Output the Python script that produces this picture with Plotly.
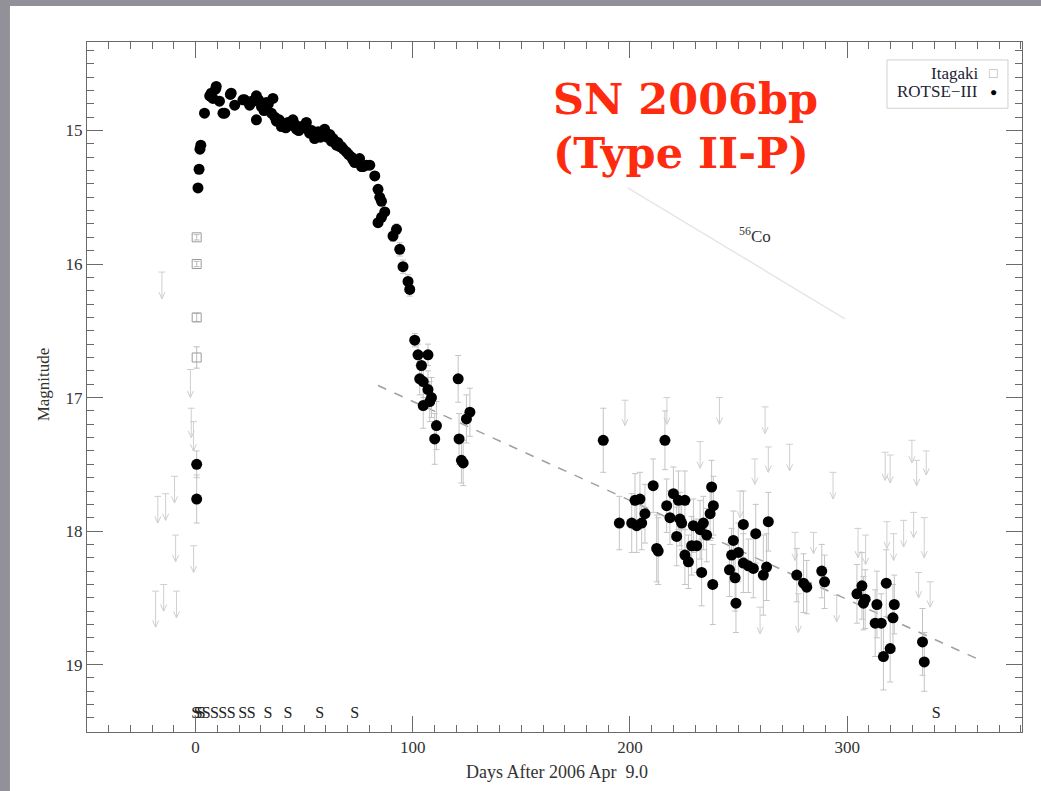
import plotly.graph_objects as go

# ---------------- data ----------------
# ROTSE-III detections (days after 2006 Apr 9.0, magnitude, error)
rotse_days = [0.5, 0.5, 1.1, 1.6, 2.0, 2.4, 4.1, 6.5, 7.2, 8.0, 9.2, 9.5, 11.0, 12.6, 13.4, 16.0, 16.4, 18.0,
              21.8, 22.6, 24.9, 26.0, 26.4, 28.0, 28.0, 29.0, 30.3, 31.5, 32.6, 33.5, 34.9, 35.6, 36.5, 37.2,
              38.5, 39.5, 40.5, 41.5, 42.5, 43.5, 44.8, 45.5, 46.4, 47.5, 48.7, 50.0, 51.0, 52.5, 53.5, 54.8,
              55.5, 56.4, 57.5, 58.5, 59.4, 60.5, 61.8, 62.5, 63.3, 64.8, 65.5, 66.4, 67.1, 68.0, 69.4, 70.5,
              71.8, 72.5, 73.3, 74.5, 75.5, 76.4, 77.1, 78.7, 80.2, 82.5, 84.0, 84.8, 85.6, 87.1, 85.6, 84.0,
              92.5, 90.9, 94.0, 95.5, 97.8, 98.6,
              100.9, 102.4, 107.0, 104.0, 103.2, 104.8, 107.0, 108.6, 107.8, 104.8, 110.9, 110.1,
              120.9, 126.3, 124.7, 121.3, 122.4, 123.2,
              187.7, 216.1, 195.1, 200.8, 203.1, 205.4, 202.3, 204.6, 206.9, 210.7, 212.3, 213.0, 216.9,
              220.0, 218.4, 222.3, 225.3, 223.0, 221.5, 223.8, 225.3, 226.9, 229.2, 228.4, 230.7, 232.3,
              233.8, 235.3, 233.0, 237.6, 238.4, 236.9, 238.1, 247.6, 246.8, 249.9, 252.2, 252.2, 254.5,
              256.8, 245.8, 248.4, 248.8, 257.9, 263.7, 262.9, 261.4,
              276.8, 279.9, 281.4, 288.3, 289.6, 304.5, 306.8, 308.3, 307.5, 313.7, 318.0, 321.7, 321.1,
              312.9, 315.7, 319.8, 316.7, 334.7, 335.5]
rotse_mags = [17.50, 17.76, 15.43, 15.29, 15.14, 15.11, 14.87, 14.74, 14.72, 14.76, 14.69, 14.67, 14.78, 14.87,
              14.87, 14.73, 14.72, 14.81, 14.77, 14.77, 14.81, 14.78, 14.78, 14.74, 14.92, 14.77, 14.82, 14.85,
              14.79, 14.80, 14.87, 14.76, 14.90, 14.93, 14.92, 14.97, 14.95, 14.98, 14.94, 14.96, 14.92, 14.95,
              14.99, 15.00, 14.97, 14.98, 14.94, 15.02, 15.00, 15.06, 15.04, 15.01, 15.05, 15.02, 14.99, 15.05,
              15.03, 15.08, 15.06, 15.11, 15.09, 15.12, 15.12, 15.14, 15.16, 15.18, 15.20, 15.22, 15.24, 15.23,
              15.21, 15.27, 15.27, 15.26, 15.26, 15.34, 15.44, 15.50, 15.53, 15.61, 15.65, 15.69,
              15.74, 15.79, 15.89, 16.02, 16.13, 16.19,
              16.57, 16.68, 16.68, 16.76, 16.86, 16.88, 16.94, 17.00, 17.03, 17.06, 17.21, 17.31,
              16.86, 17.11, 17.16, 17.31, 17.47, 17.49,
              17.32, 17.32, 17.94, 17.94, 17.96, 17.94, 17.77, 17.76, 17.87, 17.66, 18.13, 18.15, 17.81,
              17.72, 17.90, 17.77, 17.77, 17.91, 18.04, 17.94, 18.18, 18.23, 17.96, 18.11, 18.11, 17.99,
              17.94, 18.03, 18.31, 17.67, 17.81, 17.87, 18.40, 18.07, 18.18, 18.16, 17.95, 18.24, 18.26,
              18.28, 18.29, 18.35, 18.54, 18.02, 17.93, 18.27, 18.33,
              18.33, 18.39, 18.42, 18.30, 18.38, 18.47, 18.41, 18.51, 18.54, 18.55, 18.39, 18.55, 18.65,
              18.69, 18.69, 18.88, 18.94, 18.83, 18.98]
rotse_errs = [0.10, 0.18, 0.03, 0.02, 0.02, 0.02, 0.02] + [0.03] * 18 + [0.05] + [0.03] * 56 + \
             [0.04, 0.04, 0.05, 0.05, 0.05, 0.05] + \
             [0.05, 0.08, 0.08, 0.10, 0.12, 0.12, 0.14, 0.15, 0.15, 0.17, 0.18, 0.19,
              0.175, 0.18, 0.18, 0.19, 0.17, 0.17] + \
             [0.24, 0.22, 0.20, 0.22, 0.20, 0.20, 0.20, 0.20, 0.22, 0.20, 0.25, 0.25, 0.20,
              0.20, 0.20, 0.22, 0.22, 0.20, 0.22, 0.20, 0.22, 0.20, 0.20, 0.22, 0.20, 0.22,
              0.20, 0.20, 0.25, 0.20, 0.22, 0.20, 0.30, 0.22, 0.20, 0.22, 0.25, 0.22, 0.20,
              0.22, 0.20, 0.25, 0.22, 0.22, 0.22, 0.25, 0.30,
              0.20, 0.22, 0.20, 0.20, 0.20, 0.22, 0.25, 0.22, 0.20, 0.25, 0.25, 0.22, 0.25,
              0.25, 0.22, 0.25, 0.25, 0.25, 0.22]
rotse_errs = rotse_errs[:len(rotse_days)] + [0.2] * (len(rotse_days) - len(rotse_errs))

# Itagaki detections
itagaki_days = [0.5, 0.5, 0.5, 0.5]
itagaki_mags = [15.80, 16.00, 16.40, 16.70]
itagaki_errs = [0.02, 0.02, 0.03, 0.08]

# ROTSE-III upper limits: day, limit (top), arrow tip
lim_days = [-15.5, -2.4, -2.0, -1.0, -9.7, -17.4, -13.8, -9.2, -0.9, -18.4, -14.7, -8.8,
            197.7, 217.0, 241.2, 262.2, 232.3, 257.5, 263.7, 273.5, 293.5, 317.5, 319.8, 329.8,
            332.0, 336.4, 318.3, 321.4, 326.0, 330.6, 335.5, 332.9, 338.2, 276.0, 284.5, 277.5,
            295.2, 305.0, 308.5, 259.9, 250.7]
lim_tops = [16.06, 16.79, 17.08, 17.18, 17.59, 17.74, 17.72, 18.03, 18.11, 18.45, 18.40, 18.45,
            17.02, 17.00, 17.00, 17.07, 17.33, 17.46, 17.37, 17.35, 17.56, 17.41, 17.43, 17.32,
            17.47, 17.40, 17.93, 18.02, 17.92, 17.86, 17.90, 18.31, 18.38, 18.01, 18.01, 18.47,
            18.48, 17.98, 18.03, 18.57, 17.70]
lim_tips = [16.26, 17.00, 17.30, 17.40, 17.79, 17.94, 17.92, 18.23, 18.31, 18.72, 18.60, 18.65,
            17.21, 17.20, 17.20, 17.27, 17.53, 17.65, 17.56, 17.55, 17.76, 17.62, 17.64, 17.49,
            17.66, 17.58, 18.13, 18.22, 18.12, 18.05, 18.20, 18.50, 18.57, 18.22, 18.17, 18.76,
            18.68, 18.20, 18.25, 18.77, 17.90]

# linear late-time decline (dashed) and 56Co decay slope
fit_days = [84.0, 363.0]
fit_mags = [16.91, 18.98]
co_days = [199.0, 299.0]
co_mags = [15.43, 16.41]

# spectrum epochs ("S")
spec_days = [0.0, 1.2, 2.6, 4.9, 8.7, 12.5, 16.4, 21.7, 25.6, 33.3, 42.5, 57.1, 73.3, 341.0]
spec_level = 19.37

# ---------------- figure ----------------
SERIF = "Liberation Serif, Times New Roman, serif"
fig = go.Figure()

# upper-limit arrows built from the limit arrays
ax_, ay_ = [], []
cap_w, head_w, head_h = 1.6, 1.4, 0.05
for d, t, b in zip(lim_days, lim_tops, lim_tips):
    ax_ += [d - cap_w, d + cap_w, None, d, d, None, d - head_w, d, d + head_w, None]
    ay_ += [t, t, None, t, b, None, b - head_h, b, b - head_h, None]
fig.add_trace(go.Scatter(x=ax_, y=ay_, mode="lines", line=dict(color="#cfcfcf", width=1),
                         hoverinfo="skip", showlegend=False))

# 56Co line
fig.add_trace(go.Scatter(x=co_days, y=co_mags, mode="lines",
                         line=dict(color="#e6e6e6", width=1.5), showlegend=False))
# dashed decline
fig.add_trace(go.Scatter(x=fit_days, y=fit_mags, mode="lines",
                         line=dict(color="#a0a0a0", width=1.5, dash="dash"), showlegend=False))

# Itagaki
fig.add_trace(go.Scatter(x=itagaki_days, y=itagaki_mags, mode="markers",
                         error_y=dict(type="data", array=itagaki_errs, color="#bdbdbd", thickness=1, width=3),
                         marker=dict(symbol="square-open", size=9, color="#9a9a9a", line=dict(width=1)),
                         showlegend=False))
# ROTSE-III
fig.add_trace(go.Scatter(x=rotse_days, y=rotse_mags, mode="markers",
                         error_y=dict(type="data", array=rotse_errs, color="#c4c4c4", thickness=1, width=3),
                         marker=dict(symbol="circle", size=11, color="black"),
                         showlegend=False))
# S markers
fig.add_trace(go.Scatter(x=spec_days, y=[spec_level] * len(spec_days), mode="text",
                         text=["S"] * len(spec_days),
                         textfont=dict(family=SERIF, size=16, color="#222"),
                         showlegend=False))

# background panel
fig.add_shape(type="rect", xref="paper", yref="paper", x0=-0.0824, x1=1.1, y0=-0.2, y1=1.0522,
              fillcolor="white", line=dict(width=0), layer="below")
# legend box
fig.add_shape(type="rect", xref="paper", yref="paper", x0=0.8556, x1=0.985, y0=0.904, y1=0.974,
              fillcolor="white", line=dict(color="#d0d0d0", width=1))

anns = [
    dict(text="Itagaki", x=0.955, y=0.955, xanchor="right", font=dict(size=17, color="#223")),
    dict(text="ROTSE−III", x=0.955, y=0.928, xanchor="right", font=dict(size=17, color="#223")),
    dict(text="□", x=0.9695, y=0.955, xanchor="center", font=dict(size=14, color="#aaa")),
    dict(text="●", x=0.9695, y=0.928, xanchor="center", font=dict(size=12, color="black")),
    dict(text="<sup>56</sup>Co", x=257.6, y=15.78, xref="x", yref="y", font=dict(size=17, color="#333")),
    dict(text="Magnitude", x=-0.047, y=0.504, textangle=-90, font=dict(size=17, color="#333")),
    dict(text="Days After 2006 Apr\u00a0\u00a09.0", x=0.5027, y=-0.058, font=dict(size=18, color="#333")),
    dict(text="<b>SN 2006bp</b>", x=0.496, y=0.917, xanchor="left",
         font=dict(family="DejaVu Serif", size=43, color="#ff2b0f")),
    dict(text="<b>(Type II-P)</b>", x=0.496, y=0.839, xanchor="left",
         font=dict(family="DejaVu Serif", size=43, color="#ff2b0f")),
]
for a in anns:
    a.setdefault("xref", "paper")
    a.setdefault("yref", "paper")
    a.setdefault("xanchor", "center")
    a.setdefault("yanchor", "middle")
    a["showarrow"] = False
    a["font"].setdefault("family", SERIF)
    fig.add_annotation(**a)

axis_common = dict(showline=True, linecolor="#6a6a6a", linewidth=1, mirror="ticks",
                   ticks="inside", ticklen=16, tickcolor="#6a6a6a", tickwidth=1,
                   showgrid=False, zeroline=False,
                   tickfont=dict(family=SERIF, size=17, color="#333"))
fig.update_xaxes(range=[-50, 380.5], tick0=0, dtick=100,
                 minor=dict(ticks="inside", ticklen=7, dtick=10, tickcolor="#6a6a6a", showgrid=False),
                 **axis_common)
fig.update_yaxes(range=[19.505, 14.337], tick0=15, dtick=1,
                 minor=dict(ticks="inside", ticklen=7, dtick=0.1, tickcolor="#6a6a6a", showgrid=False),
                 **axis_common)

fig.update_layout(width=1041, height=791, margin=dict(l=87, r=19, t=42, b=59),
                  paper_bgcolor="#929199", plot_bgcolor="white", showlegend=False,
                  font=dict(family=SERIF))
fig.write_html("out.html")
